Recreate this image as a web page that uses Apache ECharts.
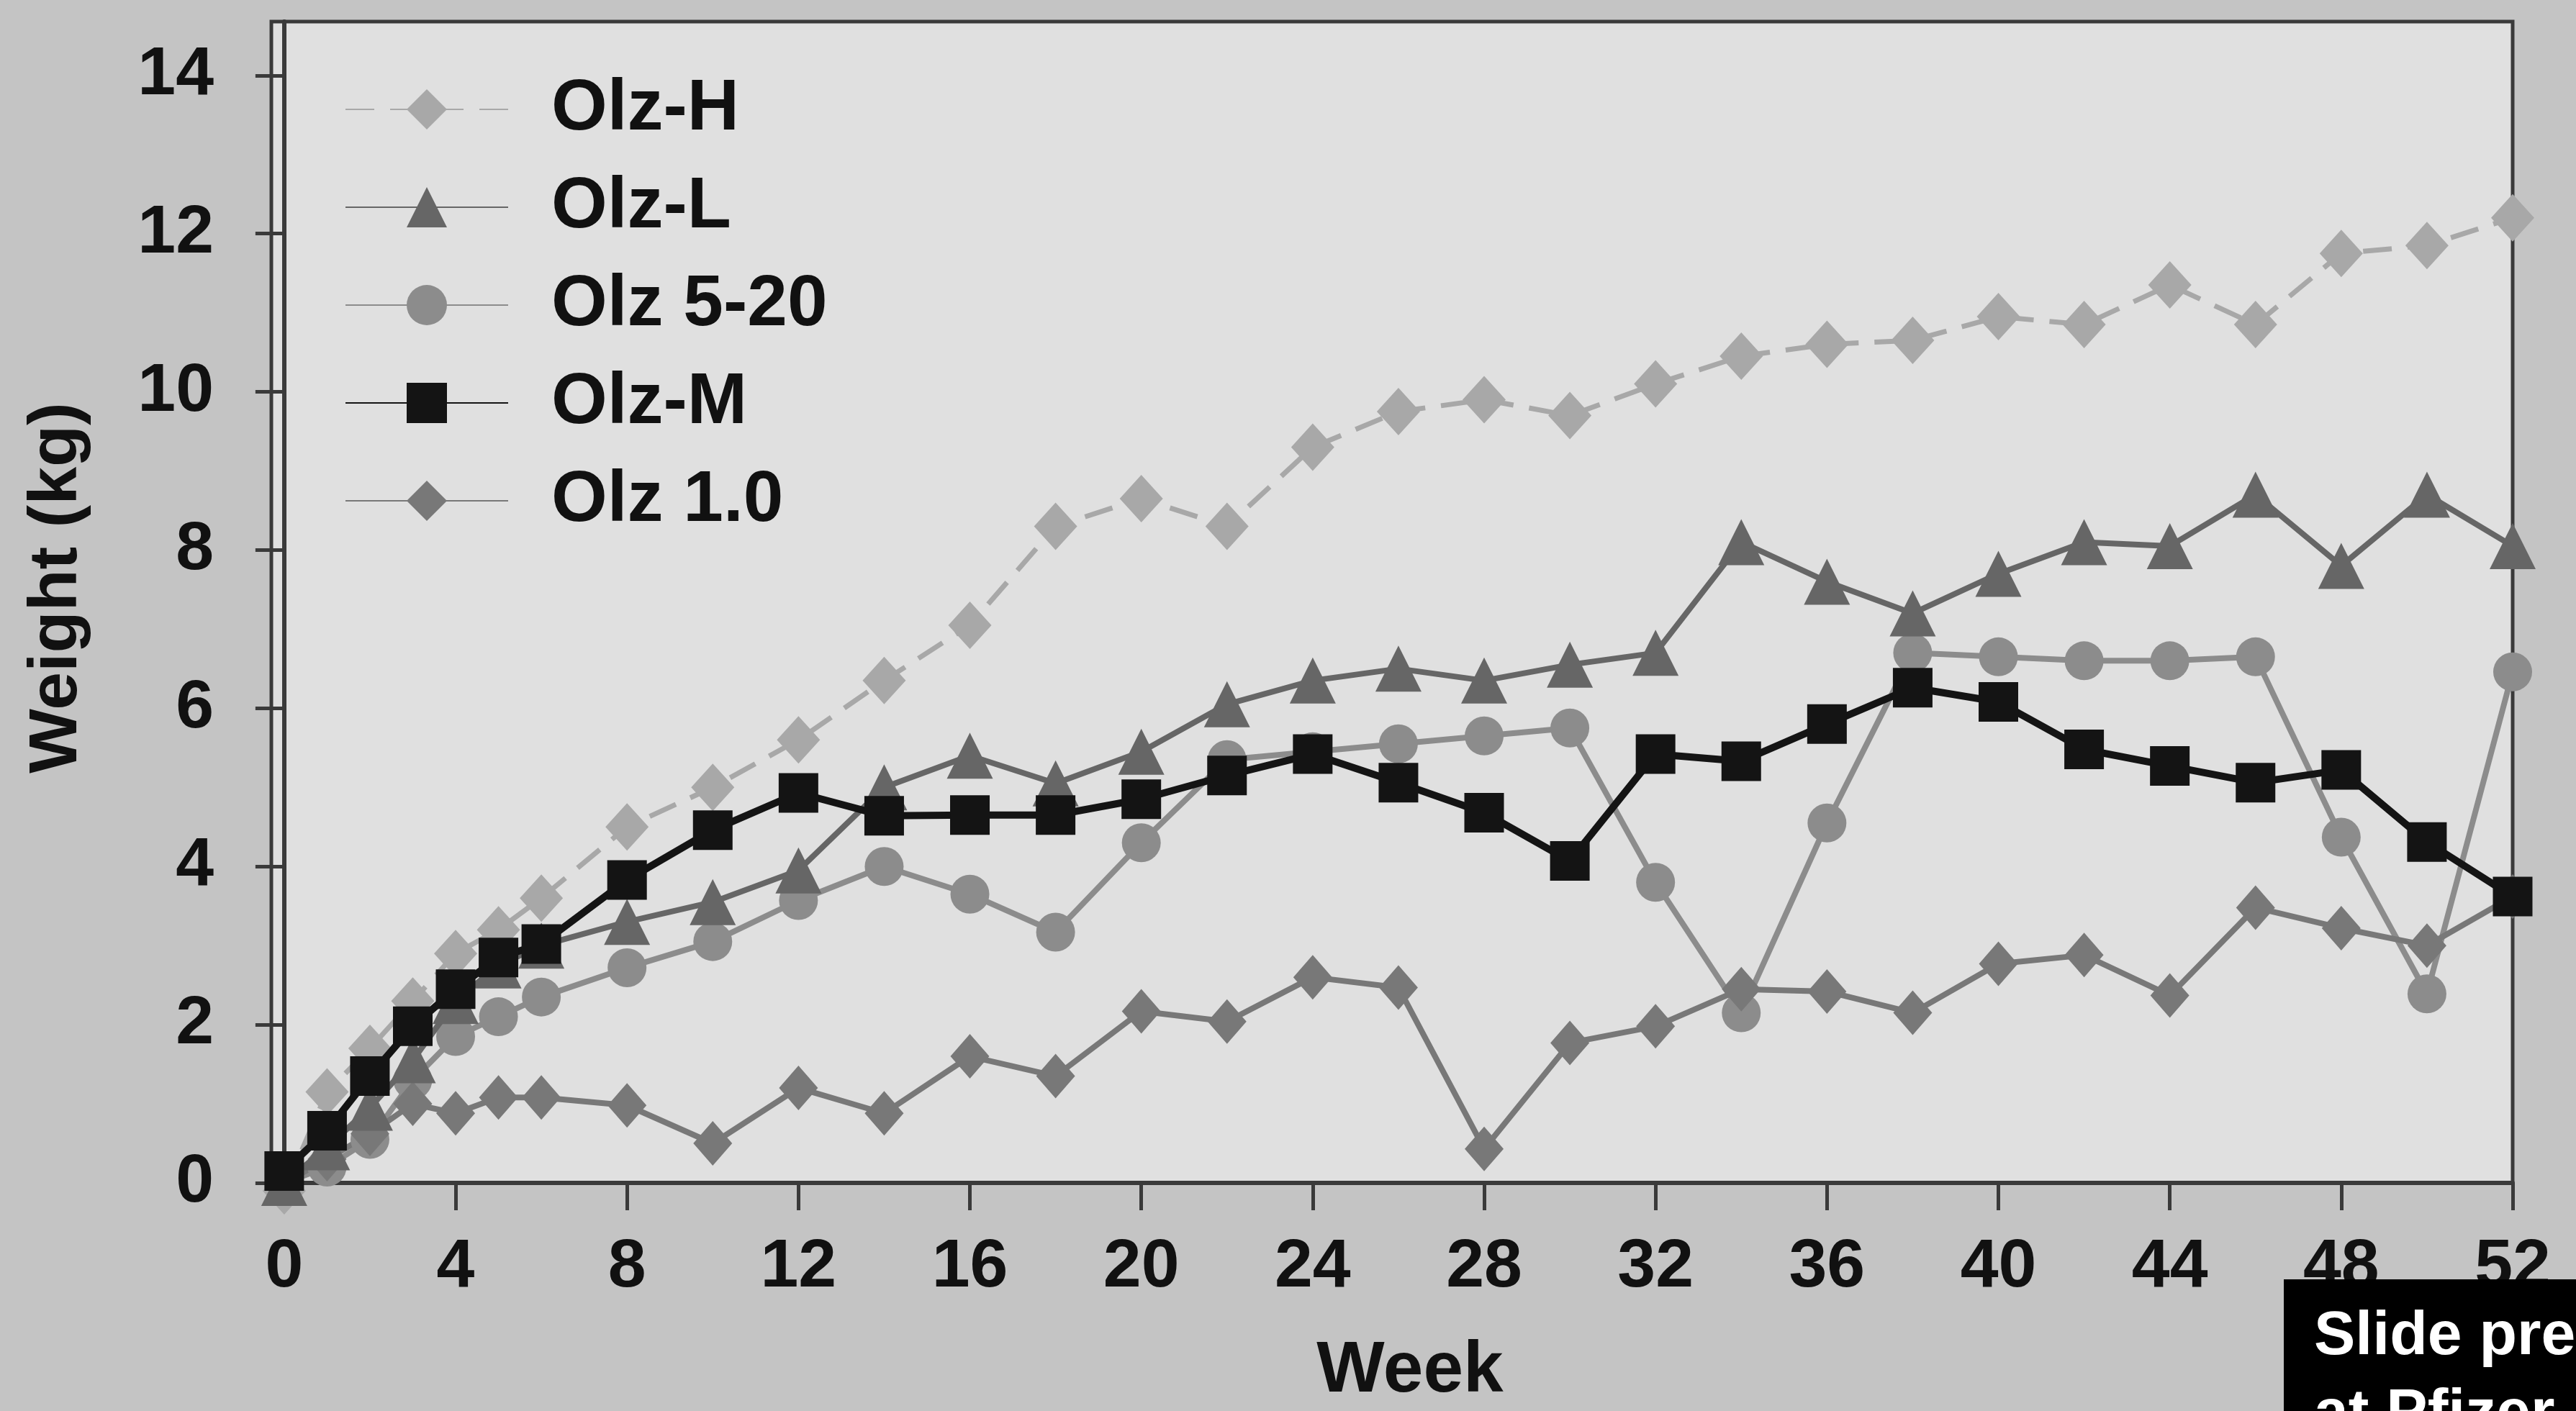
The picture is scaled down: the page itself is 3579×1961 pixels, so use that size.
<!DOCTYPE html>
<html><head><meta charset="utf-8">
<script src="https://cdn.jsdelivr.net/npm/echarts@6/dist/echarts.min.js"></script>
<style>html,body{margin:0;padding:0;background:#c4c4c4}#c{width:3579px;height:1961px}</style>
</head><body><div id="c"></div>
<script>
const weeks = [0,1,2,3,4,5,6,8,10,12,14,16,18,20,22,24,26,28,30,32,34,36,38,40,42,44,46,48,50,52];
const olzH   = [-0.1,1.15,1.7,2.3,2.9,3.2,3.6,4.5,5.0,5.6,6.35,7.05,8.3,8.65,8.3,9.3,9.75,9.9,9.7,10.1,10.45,10.6,10.65,10.95,10.85,11.35,10.85,11.75,11.85,12.2];
const olzL   = [0,0.45,0.95,1.55,2.3,2.75,3.0,3.3,3.55,3.95,5.0,5.4,5.05,5.45,6.05,6.35,6.5,6.35,6.55,6.7,8.1,7.6,7.2,7.7,8.1,8.05,8.7,7.8,8.7,8.05];
const olz520 = [0,0.2,0.55,1.3,1.85,2.1,2.35,2.72,3.05,3.57,4.0,3.65,3.17,4.3,5.35,5.45,5.55,5.65,5.75,3.8,2.15,4.55,6.7,6.65,6.6,6.6,6.65,4.37,2.39,6.46];
const olzM   = [0.15,0.66,1.35,1.98,2.45,2.85,3.02,3.83,4.46,4.93,4.64,4.65,4.65,4.85,5.15,5.42,5.06,4.68,4.07,5.42,5.33,5.8,6.26,6.08,5.48,5.27,5.06,5.22,4.31,3.62];
const olz10  = [0,0.3,0.62,1.0,0.88,1.08,1.08,0.98,0.5,1.2,0.88,1.6,1.35,2.17,2.04,2.6,2.47,0.43,1.77,1.98,2.45,2.42,2.15,2.77,2.88,2.37,3.48,3.22,3.0,3.62];
const seriesNames = ['Olz-H','Olz-L','Olz 5-20','Olz-M','Olz 1.0'];
const xTicks = [0,4,8,12,16,20,24,28,32,36,40,44,48,52];
const yTicks = [0,2,4,6,8,10,12,14];
const xName = 'Week';
const yName = 'Weight (kg)';
const noteLines = ['Slide presented', 'at Pfizer'];

const FONT = '"Liberation Sans", Arial, sans-serif';
const pairs = vals => weeks.map((w, i) => [w, vals[i]]);

const chart = echarts.init(document.getElementById('c'), null, {renderer: 'canvas'});

function mk(name, vals, symbol, size, color, width, dash, z) {
  return {
    name, type: 'line', data: pairs(vals), symbol, symbolSize: size,
    clip: false, z: z, animation: false,
    itemStyle: {color: color, opacity: 1},
    lineStyle: {color: color, width: width, type: dash || 'solid'},
    emphasis: {disabled: true}
  };
}

chart.setOption({
  backgroundColor: '#c4c4c4',
  animation: false,
  grid: {left: 377, top: 30, width: 3114, height: 1644, show: true,
         backgroundColor: '#e0e0e0', borderColor: '#3a3a3a', borderWidth: 5},
  legend: {
    data: seriesNames, orient: 'vertical', left: 474, top: 97,
    itemWidth: 226, itemHeight: 70, itemGap: 36,
    textStyle: {fontFamily: FONT, fontSize: 100, fontWeight: 'bold', color: '#111', padding: [0,0,0,55]},
    selectedMode: false
  },
  xAxis: {
    type: 'value', min: -0.3, max: 52,
    name: xName, nameLocation: 'middle', nameGap: 212,
    nameTextStyle: {fontFamily: FONT, fontSize: 100, fontWeight: 'bold', color: '#111', padding: [0,0,0,50]},
    axisLine: {show: true, onZero: false, lineStyle: {color: '#3a3a3a', width: 6}},
    axisTick: {show: true, customValues: xTicks, length: 38, lineStyle: {color: '#3a3a3a', width: 5}},
    axisLabel: {customValues: xTicks, margin: 70, fontFamily: FONT, fontSize: 95, fontWeight: 'bold', color: '#111'},
    splitLine: {show: false}
  },
  yAxis: {
    type: 'value', min: 0, max: 14.68,
    name: yName, nameLocation: 'middle', nameGap: 250, nameRotate: 90,
    nameTextStyle: {fontFamily: FONT, fontSize: 95, fontWeight: 'bold', color: '#111', padding: [0,0,0,40]},
    axisLine: {show: true, lineStyle: {color: '#3a3a3a', width: 6}},
    axisTick: {show: true, customValues: yTicks, length: 40, lineStyle: {color: '#3a3a3a', width: 5}},
    axisLabel: {customValues: yTicks, margin: 80, fontFamily: FONT, fontSize: 95, fontWeight: 'bold', color: '#111'},
    splitLine: {show: false}
  },
  series: [
    mk('Olz-H', olzH, 'diamond', [60, 66], '#a8a8a8', 7, [40, 22], 3),
    mk('Olz-L', olzL, 'triangle', 64, '#666666', 8, null, 4),
    mk('Olz 5-20', olz520, 'circle', 54, '#8c8c8c', 8, null, 2),
    mk('Olz-M', olzM, 'rect', 55, '#141414', 10, null, 6),
    mk('Olz 1.0', olz10, 'diamond', [54, 62], '#787878', 8, null, 2)
  ],
  graphic: [
    {type: 'rect', left: 3173, top: 1778, z: 100,
     shape: {width: 420, height: 200}, style: {fill: '#000'}},
    {type: 'text', z: 101, x: 3215, y: 1858,
     style: {text: noteLines[0], fill: '#fff', font: 'bold 86px ' + FONT, verticalAlign: 'middle', align: 'left'}},
    {type: 'text', z: 101, x: 3215, y: 1966,
     style: {text: noteLines[1], fill: '#fff', font: 'bold 86px ' + FONT, verticalAlign: 'middle', align: 'left'}}
  ]
});
</script>
</body></html>
